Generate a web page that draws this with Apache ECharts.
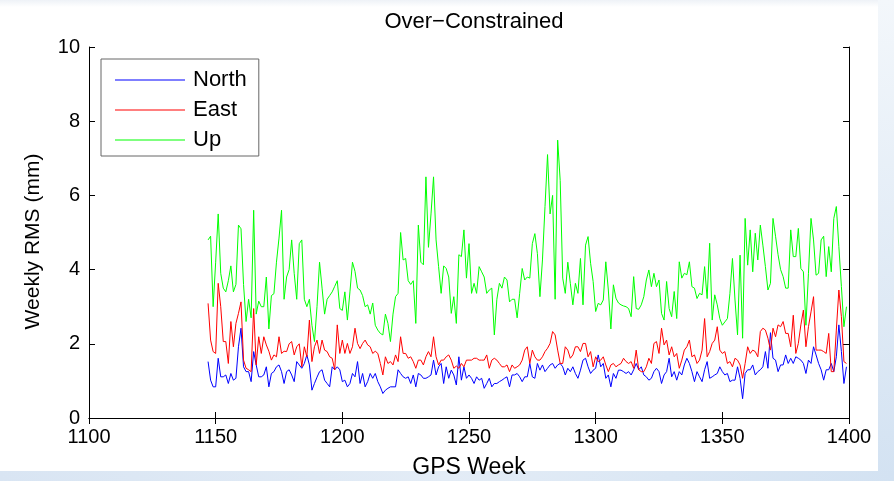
<!DOCTYPE html>
<html>
<head>
<meta charset="utf-8">
<script src="https://cdn.jsdelivr.net/npm/echarts@6/dist/echarts.min.js"></script>
<style>
html,body{margin:0;padding:0;background:#fff;}
#chart{width:894px;height:481px;}
</style>
</head>
<body>
<div id="chart"></div>
<script>
const firstWeek = 1147;
const xTicks = [1100, 1150, 1200, 1250, 1300, 1350, 1400];
const yTicks = [0, 2, 4, 6, 8, 10];

const north = [
1.52,1.02,0.84,0.84,1.61,1.11,1.11,1.16,0.93,1.2,
1.02,1.07,1.92,2.42,1.38,1.25,1.25,0.98,1.79,1.43,
1.11,1.11,1.16,1.38,0.84,1.2,1.25,1.38,1.43,1.25,
0.93,1.25,1.3,1.16,0.98,1.52,1.43,1.34,1.47,1.7,
1.43,0.75,0.93,1.1,1.25,1.3,1.02,0.93,0.84,1.38,
1.3,1.38,1.3,0.98,1.02,0.84,0.93,1.2,1.11,1.52,
0.93,1.2,0.84,0.98,1.2,1.07,1.2,0.98,0.84,0.66,
0.75,0.8,0.84,0.84,0.84,1.3,1.2,1.11,1.07,1.11,
0.93,1.16,0.84,1.2,1.16,1.07,1.07,1.11,1.16,1.56,
1.16,1.38,1.47,0.93,1.38,1.07,1.29,1.16,0.89,1.65,
1.02,1.38,1.07,1.16,1.07,0.93,1.11,1.02,1.07,0.8,
0.93,1.07,0.84,0.93,0.93,0.98,1.02,1.07,1.11,0.84,
1.16,1.16,1.2,1.11,0.98,1.11,1.11,1.47,1.11,1.07,
1.47,1.29,1.43,1.25,1.34,1.43,1.47,1.34,1.43,1.47,
1.38,1.16,1.34,1.25,1.38,1.2,1.07,1.29,1.56,1.61,
1.38,1.2,1.29,1.34,1.7,1.38,1.47,1.07,1.16,0.84,
1.2,1.07,1.29,1.29,1.25,1.2,1.25,1.16,1.3,1.47,
1.3,1.38,1.16,1.11,1.02,1.07,1.25,1.34,1.25,0.93,
1.16,1.25,1.61,1.11,1.25,1.02,1.25,1.16,1.43,1.61,
1.47,1.25,0.98,1.25,1.11,0.98,1.3,1.52,1.07,1.11,
1.16,1.2,1.38,1.25,1.16,1.2,0.98,1.02,1.02,1.38,
1.07,0.52,1.2,1.3,1.3,1.43,1.16,1.25,1.3,1.38,
1.79,1.34,2.3,1.61,1.56,1.25,1.43,1.43,1.7,1.47,
1.61,1.47,1.65,1.61,1.56,1.47,1.2,1.56,1.47,1.92,
1.7,1.47,1.3,1.02,1.3,1.3,1.47,1.25,1.65,2.51,
1.79,0.93,1.38
];

const east = [
3.09,2.1,1.79,1.74,3.63,3.0,2.06,2.06,1.47,2.6,
1.92,2.55,2.82,3.13,1.56,1.34,1.3,1.25,2.95,1.43,
2.19,1.74,2.19,1.97,1.8,1.56,1.7,1.65,2.19,1.74,
1.8,1.79,2.0,2.06,1.7,1.92,2.0,1.38,1.92,1.65,
2.64,1.52,1.92,2.1,1.74,2.1,1.83,1.79,1.65,1.61,
1.3,2.51,1.74,2.1,1.74,2.01,1.74,1.92,2.42,2.01,
1.87,2.01,2.1,1.97,1.92,1.74,1.8,1.74,1.47,1.16,
1.65,1.47,1.52,1.43,1.7,1.52,2.19,1.74,1.74,1.61,
1.65,1.52,1.34,1.56,1.56,1.43,1.65,1.79,1.65,2.19,
1.65,1.43,1.56,1.56,1.65,1.7,1.56,1.34,1.4,1.34,
1.47,1.38,1.56,1.56,1.56,1.61,1.61,1.56,1.56,1.56,
1.7,1.34,1.56,1.61,1.56,1.47,1.38,1.38,1.43,1.25,
1.43,1.34,1.38,1.43,1.56,1.83,1.92,1.47,1.83,1.65,
1.56,1.56,1.65,1.79,1.88,2.01,2.33,2.24,1.83,1.47,
1.47,1.92,1.83,1.61,1.7,1.92,1.92,1.79,2.01,2.01,
1.65,1.79,1.38,1.65,1.52,1.56,1.65,1.43,1.25,1.43,
1.47,1.38,1.43,1.47,1.61,1.52,1.47,1.52,1.34,1.83,
1.3,1.25,1.25,1.38,1.61,1.47,2.01,2.06,1.74,2.42,
1.97,2.1,1.7,1.92,1.65,1.74,1.34,1.56,1.83,1.92,
2.1,1.65,1.7,1.47,1.56,1.83,2.68,1.65,1.79,2.01,
2.1,2.46,1.83,1.74,1.79,1.47,1.52,1.38,1.61,1.56,
1.43,1.07,1.47,1.92,1.74,1.83,1.79,1.65,2.33,2.42,
2.37,2.15,1.83,2.42,2.19,2.51,2.46,2.6,2.28,2.28,
1.92,2.77,1.74,2.01,2.51,2.91,1.92,2.46,2.86,3.27,
1.83,1.83,1.83,1.79,1.74,2.28,1.25,1.25,2.37,3.45,
2.73,1.52,1.47
];

const up = [
4.8,4.9,3.0,4.2,5.5,3.9,3.5,3.4,3.7,4.1,
3.4,3.6,5.2,5.1,3.6,2.6,3.2,2.7,5.6,2.8,
3.15,3.0,3.0,3.8,2.4,3.3,3.35,4.2,4.85,5.6,
3.2,3.8,4.0,4.8,3.9,3.2,4.7,4.8,3.2,3.0,
3.2,2.5,2.06,3.0,4.2,3.5,2.8,3.2,3.3,3.4,
3.55,3.7,2.95,2.9,3.4,2.64,3.4,4.2,3.95,3.5,
3.45,3.3,3.0,3.05,2.8,3.1,2.5,2.37,2.28,2.24,
2.8,2.55,2.06,2.8,3.27,3.36,5.0,4.26,4.3,3.7,
3.6,3.7,2.55,5.2,4.2,4.13,6.5,4.6,5.5,6.5,
4.8,4.08,3.36,4.1,4.03,3.8,2.82,3.27,2.55,4.4,
4.35,5.07,3.77,4.7,3.36,3.63,3.36,4.08,3.94,3.8,
3.36,3.45,3.5,2.24,3.2,3.63,3.5,3.8,3.72,3.13,
3.2,3.2,2.7,3.36,4.03,3.72,3.8,3.77,4.7,4.97,
4.43,3.27,4.26,5.7,7.1,5.5,6.0,3.2,7.49,6.4,
3.77,3.36,4.2,3.63,3.05,3.63,3.36,4.3,3.05,4.66,
4.89,4.17,3.68,2.87,3.09,3.05,3.18,4.21,3.45,2.4,
3.59,3.23,3.1,3.05,3.02,3.0,2.95,2.73,3.81,2.95,
2.93,3.05,3.27,3.72,3.99,3.54,3.9,3.54,3.72,2.82,
2.64,3.68,2.95,2.73,3.41,2.68,4.21,3.77,3.9,3.86,
4.21,3.54,3.5,3.22,3.36,3.32,4.08,3.22,4.71,2.64,
3.32,3.05,2.68,2.5,2.59,2.68,3.36,4.3,3.18,2.24,
4.39,2.15,5.38,4.12,5.07,3.94,4.98,4.26,5.2,4.66,
4.08,3.45,3.63,5.38,4.9,4.4,4.0,3.81,3.5,3.5,
5.07,4.35,4.35,5.11,4.03,3.94,2.5,3.9,5.38,4.8,
3.85,3.9,4.8,4.9,3.81,4.62,3.94,5.38,5.7,4.62,
3.54,2.46,3.0
];

const weeks = north.map((_, i) => firstWeek + i);
const pairs = arr => arr.map((v, i) => [weeks[i], v]);

const FONT = '"Liberation Sans", Arial, Helvetica, sans-serif';
const chart = echarts.init(document.getElementById('chart'), null, {renderer: 'canvas'});

const L = 89, R = 849, T = 47, B = 418;

const axisCommonX = {
  type: 'value', min: xTicks[0], max: xTicks[xTicks.length - 1], interval: 50,
  axisLine: {show: true, lineStyle: {color: '#000', width: 1}},
  axisTick: {show: true, inside: true, length: 6, lineStyle: {color: '#000', width: 1}},
  splitLine: {show: false}
};
const axisCommonY = {
  type: 'value', min: yTicks[0], max: yTicks[yTicks.length - 1], interval: 2,
  axisLine: {show: true, lineStyle: {color: '#000', width: 1}},
  axisTick: {show: true, inside: true, length: 6, lineStyle: {color: '#000', width: 1}},
  splitLine: {show: false}
};

chart.setOption({
  animation: false,
  backgroundColor: '#ffffff',
  textStyle: {fontFamily: FONT},
  graphic: [
    {type: 'rect', z: -10, silent: true, shape: {x: 0, y: 0, width: 894, height: 7},
     style: {fill: new echarts.graphic.LinearGradient(0, 0, 0, 1, [{offset: 0, color: '#eef2f7'}, {offset: 1, color: '#ffffff'}])}},
    {type: 'rect', z: -10, silent: true, shape: {x: 878, y: 0, width: 16, height: 481},
     style: {fill: new echarts.graphic.LinearGradient(0, 0, 0, 1, [{offset: 0, color: '#f3f7fb'}, {offset: 1, color: '#d3e2f2'}])}},
    {type: 'rect', z: -10, silent: true, shape: {x: 0, y: 471, width: 894, height: 10},
     style: {fill: new echarts.graphic.LinearGradient(0, 0, 1, 0, [{offset: 0, color: '#d9e5f3'}, {offset: 0.5, color: '#e3ecf6'}, {offset: 1, color: '#d3e2f2'}])}}
  ],
  title: {
    text: 'Over\u2212Constrained',
    left: (L + R) / 2, top: 6, textAlign: 'center',
    textStyle: {fontFamily: FONT, fontSize: 22, fontWeight: 'normal', color: '#000'}
  },
  legend: {
    orient: 'vertical', left: 101, top: 59,
    padding: [6, 12, 1, 14],
    itemWidth: 70, itemHeight: 1, itemGap: 0,
    icon: 'rect',
    backgroundColor: '#ffffff',
    borderColor: '#666666', borderWidth: 1,
    textStyle: {fontFamily: FONT, fontSize: 22, color: '#000', lineHeight: 30, padding: [0, 0, 0, 3]},
    data: ['North', 'East', 'Up']
  },
  grid: {left: L, right: 894 - R, top: T, bottom: 481 - B, containLabel: false, outerBoundsMode: 'none'},
  xAxis: [
    Object.assign({}, axisCommonX, {
      position: 'bottom',
      name: 'GPS Week', nameLocation: 'middle', nameGap: 38,
      nameTextStyle: {fontFamily: FONT, fontSize: 23, color: '#000'},
      axisLabel: {show: true, margin: 9, color: '#000', fontFamily: FONT, fontSize: 20,
                  formatter: v => String(v)}
    }),
    Object.assign({}, axisCommonX, {position: 'top', axisLabel: {show: false}})
  ],
  yAxis: [
    Object.assign({}, axisCommonY, {
      position: 'left',
      name: 'Weekly RMS (mm)', nameLocation: 'middle', nameGap: 45, nameRotate: 90,
      nameTextStyle: {fontFamily: FONT, fontSize: 21, color: '#000', padding: [0, 18, 0, 0]},
      axisLabel: {show: true, margin: 9, color: '#000', fontFamily: FONT, fontSize: 20,
                  formatter: v => String(v)}
    }),
    Object.assign({}, axisCommonY, {position: 'right', axisLabel: {show: false}})
  ],
  series: [
    {name: 'North', type: 'line', data: pairs(north), symbol: 'none', showSymbol: false,
     lineStyle: {color: '#0000ff', width: 1}, itemStyle: {color: '#0000ff'}},
    {name: 'East', type: 'line', data: pairs(east), symbol: 'none', showSymbol: false,
     lineStyle: {color: '#ff0000', width: 1}, itemStyle: {color: '#ff0000'}},
    {name: 'Up', type: 'line', data: pairs(up), symbol: 'none', showSymbol: false,
     lineStyle: {color: '#00ff00', width: 1}, itemStyle: {color: '#00ff00'}}
  ]
});
</script>
</body>
</html>
